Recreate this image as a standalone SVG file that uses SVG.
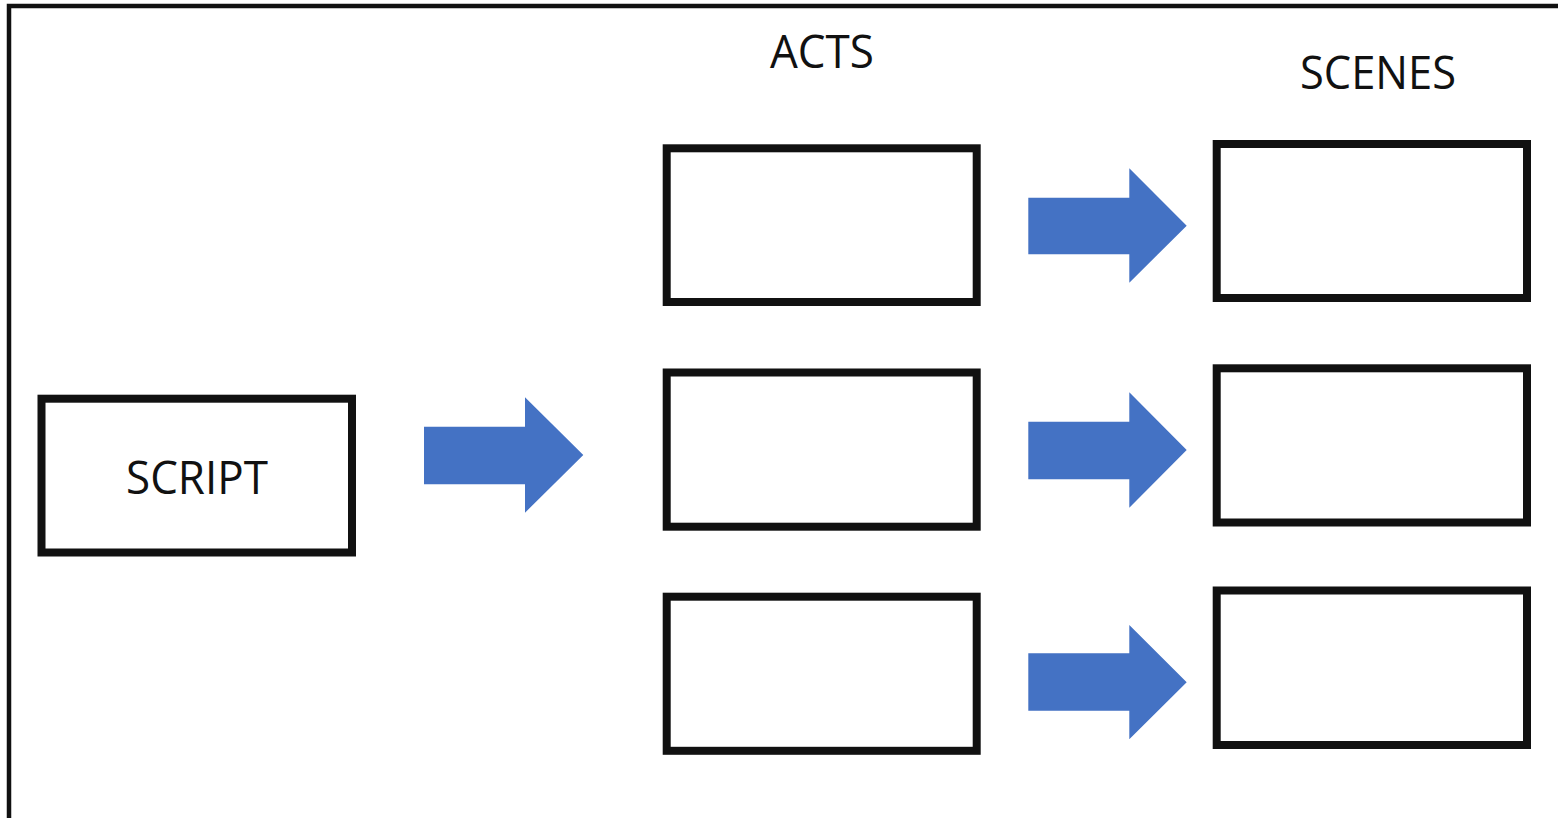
<svg xmlns="http://www.w3.org/2000/svg" width="1558" height="818" viewBox="0 0 1558 818">
<style>
.box{fill:#fff;stroke:#111;stroke-width:8}
.arr{fill:#4472C4}
.lbl{font-family:"Open Sans","Liberation Sans",sans-serif;font-size:46px;fill:#111;text-anchor:middle}
</style>
<rect x="0" y="0" width="1558" height="818" fill="#fff"/>
<rect x="9" y="6" width="1600" height="900" fill="none" stroke="#111" stroke-width="4.5"/>
<g id="title-acts"><text class="lbl" x="822" y="68" textLength="104" lengthAdjust="spacingAndGlyphs">ACTS</text></g>
<g id="title-scenes"><text class="lbl" x="1378" y="89" textLength="156" lengthAdjust="spacingAndGlyphs">SCENES</text></g>
<g id="script"><rect class="box" x="41.5" y="398.7" width="310.5" height="153.8"/><text class="lbl" x="197" y="494" textLength="142" lengthAdjust="spacingAndGlyphs">SCRIPT</text></g>
<g id="act1"><rect class="box" x="666.7" y="148.3" width="310" height="153.7"/></g>
<g id="act2"><rect class="box" x="666.7" y="372.5" width="310" height="154.2"/></g>
<g id="act3"><rect class="box" x="666.7" y="596.7" width="310" height="154.1"/></g>
<g id="scene1"><rect class="box" x="1216.7" y="144" width="310.3" height="154"/></g>
<g id="scene2"><rect class="box" x="1216.7" y="368.3" width="310.3" height="154.2"/></g>
<g id="scene3"><rect class="box" x="1216.7" y="590.5" width="310.3" height="154.5"/></g>
<g id="connectors">
<polygon class="arr" points="424,426.7 525,426.7 525,397.3 583.3,455 525,512.7 525,484.3 424,484.3"/>
<polygon class="arr" points="1028.3,197.7 1129.3,197.7 1129.3,168.3 1186.7,225.7 1129.3,282.7 1129.3,254.3 1028.3,254.3"/>
<polygon class="arr" points="1028.3,421.7 1129.3,421.7 1129.3,392.3 1186.7,450 1129.3,507.7 1129.3,479.3 1028.3,479.3"/>
<polygon class="arr" points="1028.3,653.3 1129.3,653.3 1129.3,625 1186.7,682.3 1129.3,739.3 1129.3,710.7 1028.3,710.7"/>
</g>
</svg>
